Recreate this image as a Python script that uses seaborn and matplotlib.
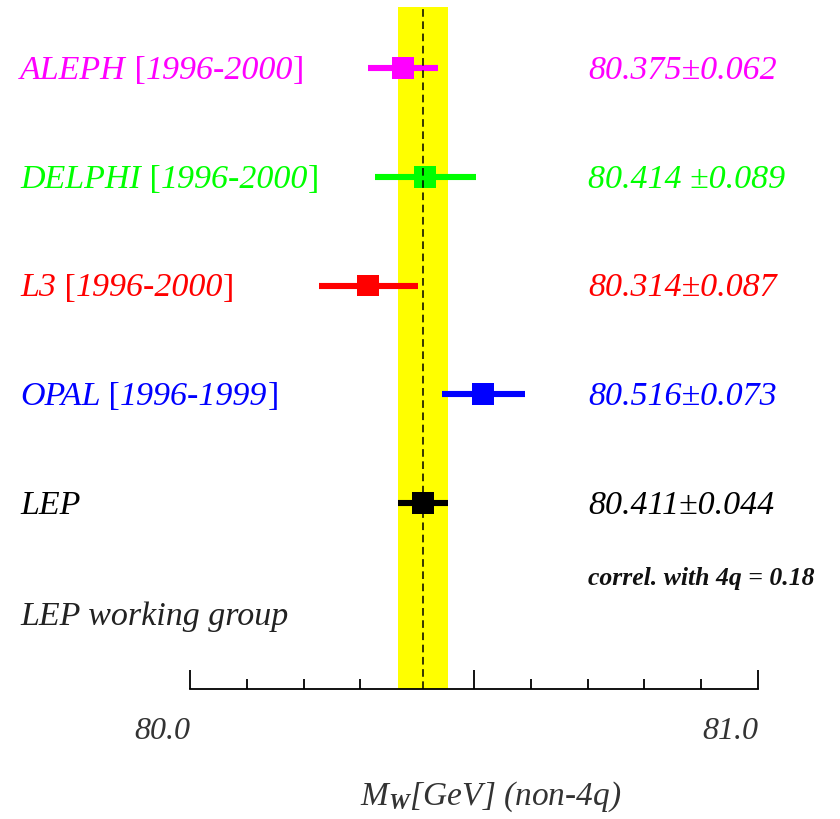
import matplotlib
matplotlib.use("Agg")
import matplotlib.pyplot as plt
import seaborn as sns
import pandas as pd

experiments = ["ALEPH", "DELPHI", "L3", "OPAL", "LEP"]
periods = ["1996-2000", "1996-2000", "1996-2000", "1996-1999", ""]
masses = [80.375, 80.414, 80.314, 80.516, 80.411]
errors = [0.062, 0.089, 0.087, 0.073, 0.044]
value_labels = ["80.375\u00b10.062", "80.414 \u00b10.089", "80.314\u00b10.087", "80.516\u00b10.073", "80.411\u00b10.044"]
colors = ["#ff00ff", "#00ff00", "#ff0000", "#0000ff", "#000000"]
lep_mean = 80.411
lep_err = 0.044
x_ticks_major = [80.0, 80.5, 81.0]
x_ticks_minor = [80.1, 80.2, 80.3, 80.4, 80.6, 80.7, 80.8, 80.9]
x_tick_labels = ["80.0", "", "81.0"]

sns.set_theme(style="white")
plt.rcParams["font.family"] = ["Liberation Serif", "DejaVu Serif"]
plt.rcParams["mathtext.fontset"] = "custom"
plt.rcParams["mathtext.rm"] = "Liberation Serif"
plt.rcParams["mathtext.it"] = "Liberation Serif:italic"
plt.rcParams["mathtext.bf"] = "Liberation Serif:bold:italic"

df = pd.DataFrame({"exp": experiments, "m": masses, "err": errors,
                   "row": list(range(len(experiments)))})

W, H = 840, 819
fig = plt.figure(figsize=(W / 100, H / 100), dpi=100)
ax_l, ax_r = 190, 758
ax_t, ax_b = 7, 689
ax = fig.add_axes([ax_l / W, (H - ax_b) / H, (ax_r - ax_l) / W, (ax_b - ax_t) / H])

row0_px, row_sp = 68, 108.75
ax.set_xlim(80.0, 81.0)
ax.set_ylim((ax_b - row0_px) / row_sp, (ax_t - row0_px) / row_sp)

# yellow band + dashed line
ax.axvspan(lep_mean - lep_err, lep_mean + lep_err, color="#ffff00", zorder=1, lw=0)
ax.axvline(lep_mean, color="black", lw=1.1, dashes=(5, 3), zorder=5)

# error bars
for i, r in df.iterrows():
    ax.hlines(r["row"], r["m"] - r["err"], r["m"] + r["err"], color=colors[i], lw=4.4, zorder=3)

sns.scatterplot(data=df, x="m", y="row", hue="exp", palette=colors, marker="s",
                s=250, linewidth=0, legend=False, ax=ax, zorder=4)

renderer = fig.canvas.get_renderer()
FS = 24.5


def put_pieces(x_px, y_base_px, pieces, color):
    x = x_px
    for txt, style in pieces:
        t = fig.text(x / W, 1 - y_base_px / H, txt, fontsize=FS, style=style, color=color,
                     ha="left", va="baseline")
        bb = t.get_window_extent(renderer=renderer)
        x = bb.x1


for i, r in df.iterrows():
    yb = row0_px + row_sp * r["row"] + 11
    pieces = [(r["exp"], "italic")]
    if periods[i]:
        pieces += [(" [", "normal"), (periods[i], "italic"), ("]", "normal")]
    put_pieces(20, yb, pieces, colors[i])
    fig.text(588 / W, 1 - yb / H, value_labels[i], color=colors[i], ha="left", va="baseline",
             style="italic", fontsize=FS)

fig.text(588 / W, 1 - 578 / H, "correl. with 4q = 0.18", fontsize=18.5, style="italic",
         weight="bold", va="center", ha="left", color="#111111")
fig.text(20 / W, 1 - 617 / H, "LEP working group", color="#222222", ha="left", va="center",
         style="italic", fontsize=FS)

# axis styling
for s in ["top", "left", "right"]:
    ax.spines[s].set_visible(False)
ax.spines["bottom"].set_color("black")
ax.spines["bottom"].set_linewidth(1.3)
ax.set_yticks([])
ax.set_ylabel("")
ax.set_xticks(x_ticks_major)
ax.set_xticks(x_ticks_minor, minor=True)
ax.set_xticklabels(x_tick_labels, ha="right", fontsize=23, style="italic", color="#333333")
ax.tick_params(axis="x", which="major", direction="in", length=14, width=1.3, color="black", pad=20, bottom=True)
ax.tick_params(axis="x", which="minor", direction="in", length=7, width=1.3, color="black", bottom=True)
ax.set_xlabel("")
fig.text(360 / W, 1 - 797 / H, r"$M_{\mathbf{W}}$[$GeV$] (non-4q)", fontsize=24, style="italic",
         ha="left", va="center", color="#333333")

fig.savefig("out.png", dpi=100)
